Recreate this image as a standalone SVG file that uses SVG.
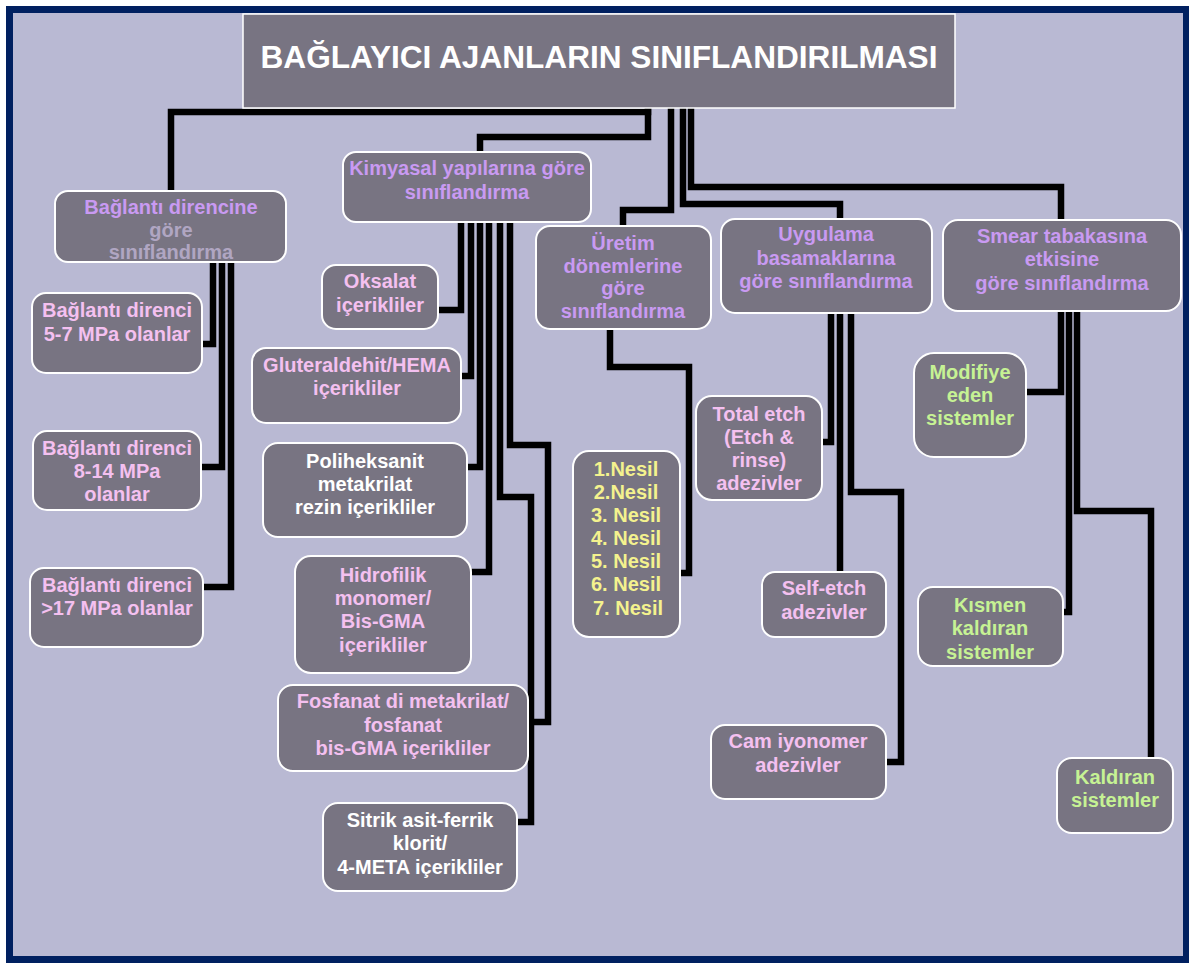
<svg xmlns="http://www.w3.org/2000/svg" width="1189" height="964" viewBox="0 0 1189 964">
<style>
.box{fill:#787482;stroke:#ffffff;stroke-width:2}
.t{font-family:"Liberation Sans",Arial,sans-serif;font-weight:bold;font-size:20px;text-anchor:middle}
.lil{fill:#C99AF2}
.pnk{fill:#F4C0F0}
.wht{fill:#FFFFFF}
.yel{fill:#F4F28E}
.grn{fill:#C6F294}
.gry{fill:#B0A6C2}
.conn path{fill:none;stroke:#000000;stroke-width:6.5;stroke-linejoin:miter;stroke-linecap:butt}
</style>
<rect x="0" y="0" width="1189" height="964" fill="#ffffff"/>
<rect x="6" y="6" width="1183" height="957" fill="#002060"/>
<rect x="13" y="13" width="1170" height="943" fill="#B9B9D3"/>

<g id="connectors" class="conn">
<path d="M171,191 V112 H648 V108"/>
<path d="M648,108 V137 H480 V152"/>
<path d="M671,108 V210 H623 V226"/>
<path d="M683,108 V204 H840 V219"/>
<path d="M691,108 V187 H1061 V220"/>
<path d="M213,262 V344 H202"/>
<path d="M222,262 V467 H201"/>
<path d="M231,262 V587 H203"/>
<path d="M461,222 V310 H438"/>
<path d="M471,222 V376 H461"/>
<path d="M480,222 V467 H467"/>
<path d="M489,222 V572 H471"/>
<path d="M500,222 V497 H531 V822 H517"/>
<path d="M510,222 V445 H548 V722 H528"/>
<path d="M610,329 V367 H689 V573 H680"/>
<path d="M831,313 V442 H822"/>
<path d="M840,313 V572"/>
<path d="M851,313 V492 H901 V762 H886"/>
<path d="M1061,311 V392 H1026"/>
<path d="M1069,311 V612 H1063"/>
<path d="M1077,311 V511 H1151 V758"/>
</g>

<g id="title">
<rect x="243" y="14" width="712" height="94" fill="#787482" stroke="#ffffff" stroke-width="1.5"/>
<text x="599" y="68" font-family="Liberation Sans, Arial, sans-serif" font-weight="bold" font-size="31.6" fill="#ffffff" text-anchor="middle">BAĞLAYICI AJANLARIN SINIFLANDIRILMASI</text>
</g>

<g id="baglanti">
<rect class="box" x="55" y="191" width="231" height="71" rx="13"/>
<text class="t lil" x="171" y="214">Bağlantı direncine</text>
<text class="t gry" x="171" y="237">göre</text>
<text class="t gry" x="171" y="259">sınıflandırma</text>
</g>

<g id="kimyasal">
<rect class="box" x="343" y="152" width="248" height="70" rx="13"/>
<text class="t lil" x="467" y="175">Kimyasal yapılarına göre</text>
<text class="t lil" x="467" y="199">sınıflandırma</text>
</g>

<g id="uretim">
<rect class="box" x="536" y="226" width="175" height="103" rx="14"/>
<text class="t lil" x="623" y="250">Üretim</text>
<text class="t lil" x="623" y="273">dönemlerine</text>
<text class="t lil" x="623" y="295">göre</text>
<text class="t lil" x="623" y="318">sınıflandırma</text>
</g>

<g id="uygulama">
<rect class="box" x="721" y="219" width="211" height="94" rx="14"/>
<text class="t lil" x="826" y="241">Uygulama</text>
<text class="t lil" x="826" y="265">basamaklarına</text>
<text class="t lil" x="826" y="288">göre sınıflandırma</text>
</g>

<g id="smear">
<rect class="box" x="943" y="220" width="238" height="91" rx="15"/>
<text class="t lil" x="1062" y="243">Smear tabakasına</text>
<text class="t lil" x="1062" y="266">etkisine</text>
<text class="t lil" x="1062" y="290">göre sınıflandırma</text>
</g>

<g id="bd57">
<rect class="box" x="32" y="293" width="170" height="80" rx="14"/>
<text class="t pnk" x="117" y="317">Bağlantı direnci</text>
<text class="t pnk" x="117" y="341">5-7 MPa olanlar</text>
</g>

<g id="bd814">
<rect class="box" x="33" y="431" width="168" height="79" rx="14"/>
<text class="t pnk" x="117" y="455">Bağlantı direnci</text>
<text class="t pnk" x="117" y="478">8-14 MPa</text>
<text class="t pnk" x="117" y="501">olanlar</text>
</g>

<g id="bd17">
<rect class="box" x="30" y="568" width="173" height="79" rx="14"/>
<text class="t pnk" x="117" y="592">Bağlantı direnci</text>
<text class="t pnk" x="117" y="615">&gt;17 MPa olanlar</text>
</g>

<g id="oksalat">
<rect class="box" x="322" y="265" width="116" height="64" rx="14"/>
<text class="t pnk" x="380" y="288">Oksalat</text>
<text class="t pnk" x="380" y="312">içerikliler</text>
</g>

<g id="gluteraldehit">
<rect class="box" x="252" y="348" width="209" height="75" rx="14"/>
<text class="t pnk" x="357" y="372">Gluteraldehit/HEMA</text>
<text class="t pnk" x="357" y="395">içerikliler</text>
</g>

<g id="poliheksanit">
<rect class="box" x="263" y="443" width="204" height="94" rx="15"/>
<text class="t wht" x="365" y="468">Poliheksanit</text>
<text class="t wht" x="365" y="491">metakrilat</text>
<text class="t wht" x="365" y="514">rezin içerikliler</text>
</g>

<g id="hidrofilik">
<rect class="box" x="295" y="556" width="176" height="117" rx="16"/>
<text class="t pnk" x="383" y="582">Hidrofilik</text>
<text class="t pnk" x="383" y="605">monomer/</text>
<text class="t pnk" x="383" y="628">Bis-GMA</text>
<text class="t pnk" x="383" y="652">içerikliler</text>
</g>

<g id="fosfanat">
<rect class="box" x="278" y="685" width="250" height="86" rx="15"/>
<text class="t pnk" x="403" y="708">Fosfanat di metakrilat/</text>
<text class="t pnk" x="403" y="732">fosfanat</text>
<text class="t pnk" x="403" y="755">bis-GMA içerikliler</text>
</g>

<g id="sitrik">
<rect class="box" x="323" y="803" width="194" height="88" rx="15"/>
<text class="t wht" x="420" y="827">Sitrik asit-ferrik</text>
<text class="t wht" x="420" y="850">klorit/</text>
<text class="t wht" x="420" y="874">4-META içerikliler</text>
</g>

<g id="nesil">
<rect class="box" x="573" y="451" width="107" height="186" rx="16"/>
<text class="t yel" x="626" y="476">1.Nesil</text>
<text class="t yel" x="626" y="499">2.Nesil</text>
<text class="t yel" x="626" y="522">3. Nesil</text>
<text class="t yel" x="626" y="545">4. Nesil</text>
<text class="t yel" x="626" y="568">5. Nesil</text>
<text class="t yel" x="626" y="591">6. Nesil</text>
<text class="t yel" x="628" y="615">7. Nesil</text>
</g>

<g id="totaletch">
<rect class="box" x="696" y="396" width="126" height="104" rx="16"/>
<text class="t pnk" x="759" y="421">Total etch</text>
<text class="t pnk" x="759" y="444">(Etch &amp;</text>
<text class="t pnk" x="759" y="467">rinse)</text>
<text class="t pnk" x="759" y="490">adezivler</text>
</g>

<g id="selfetch">
<rect class="box" x="762" y="572" width="124" height="65" rx="13"/>
<text class="t pnk" x="824" y="595">Self-etch</text>
<text class="t pnk" x="824" y="619">adezivler</text>
</g>

<g id="camiyonomer">
<rect class="box" x="711" y="725" width="175" height="74" rx="14"/>
<text class="t pnk" x="798" y="748">Cam iyonomer</text>
<text class="t pnk" x="798" y="772">adezivler</text>
</g>

<g id="modifiye">
<rect class="box" x="914" y="353" width="112" height="104" rx="20"/>
<text class="t grn" x="970" y="379">Modifiye</text>
<text class="t grn" x="970" y="402">eden</text>
<text class="t grn" x="970" y="425">sistemler</text>
</g>

<g id="kismen">
<rect class="box" x="918" y="587" width="145" height="79" rx="15"/>
<text class="t grn" x="990" y="612">Kısmen</text>
<text class="t grn" x="990" y="635">kaldıran</text>
<text class="t grn" x="990" y="659">sistemler</text>
</g>

<g id="kaldiran">
<rect class="box" x="1057" y="758" width="116" height="75" rx="15"/>
<text class="t grn" x="1115" y="784">Kaldıran</text>
<text class="t grn" x="1115" y="807">sistemler</text>
</g>
</svg>
